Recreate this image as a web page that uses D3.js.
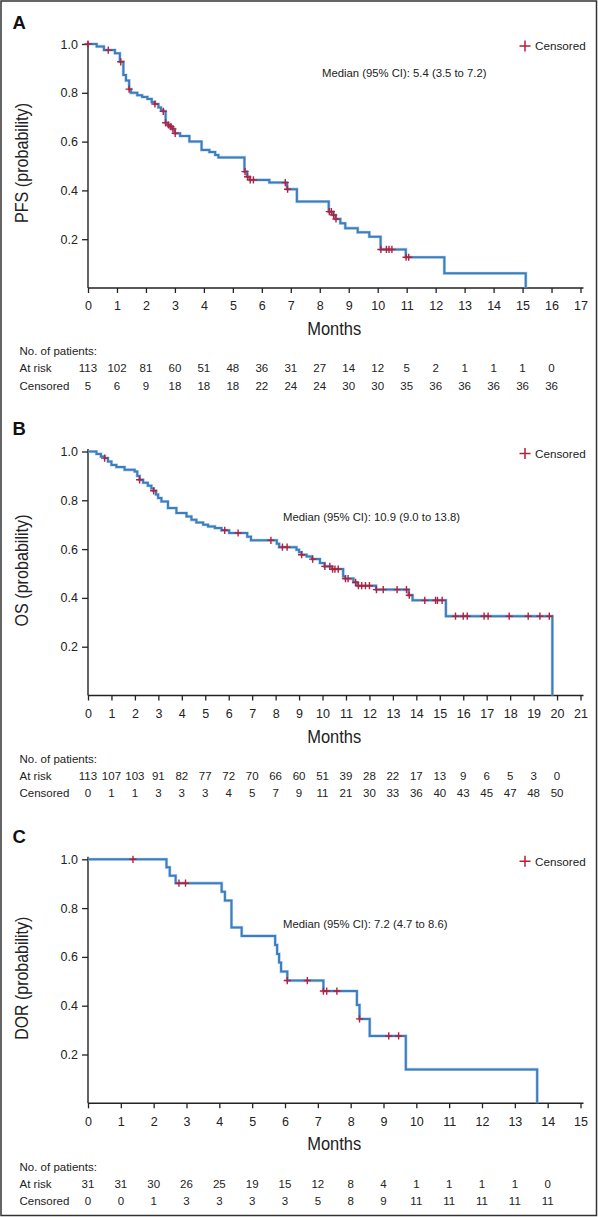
<!DOCTYPE html>
<html><head><meta charset="utf-8">
<script src="https://cdn.jsdelivr.net/npm/d3@7"></script>
<style>html,body{margin:0;padding:0;background:#fff;}svg{display:block;}</style>
</head><body>
<script>
// ---------- DATA ----------
// Panel A: PFS
const pfsTimes = [0,0.30,0.55,0.93,1.10,1.22,1.31,1.42,1.48,1.70,1.87,2.05,2.20,2.31,2.43,2.52,2.60,2.68,2.76,2.84,2.91,2.99,3.18,3.50,3.92,4.19,4.39,4.50,5.40,5.49,5.58,6.26,6.87,7.21,8.31,8.46,8.54,8.71,8.88,9.31,9.71,10.10,10.97,12.30,15.11];
const pfsSurv  = [1.0,0.99,0.975,0.962,0.927,0.873,0.85,0.815,0.80,0.79,0.783,0.775,0.762,0.754,0.74,0.728,0.724,0.677,0.668,0.661,0.652,0.634,0.623,0.60,0.566,0.557,0.545,0.535,0.477,0.456,0.443,0.432,0.405,0.354,0.313,0.299,0.283,0.265,0.245,0.228,0.210,0.158,0.126,0.06,0];
const pfsCensored = [0,0.70,1.13,1.42,2.31,2.60,2.68,2.78,2.86,2.93,3.01,5.42,5.51,5.60,5.71,6.81,6.89,8.33,8.40,8.48,8.56,10.11,10.30,10.39,10.49,10.98,11.07];
const pfsAtRisk = [113,102,81,60,51,48,36,31,27,14,12,5,2,1,1,1,0];
const pfsCensCount = [5,6,9,18,18,18,22,24,24,30,30,35,36,36,36,36,36];
const pfsMaxMonth = 17;

// Panel B: OS
const osTimes = [0,0.36,0.55,0.71,0.85,1.00,1.21,1.56,1.99,2.10,2.20,2.35,2.55,2.70,2.80,2.90,2.99,3.13,3.41,3.77,4.20,4.41,4.62,4.91,5.12,5.41,5.69,6.02,6.79,6.95,8.05,8.15,8.89,9.00,9.10,9.32,9.55,9.89,10.08,10.40,10.88,10.95,11.32,11.48,12.28,13.67,13.84,15.26,19.80];
const osSurv  = [1.0,0.99,0.98,0.973,0.959,0.945,0.936,0.925,0.918,0.90,0.884,0.872,0.86,0.848,0.839,0.824,0.809,0.795,0.768,0.748,0.734,0.72,0.709,0.70,0.693,0.686,0.677,0.666,0.651,0.636,0.622,0.608,0.597,0.587,0.577,0.570,0.559,0.543,0.529,0.518,0.488,0.479,0.464,0.450,0.434,0.411,0.390,0.325,0];
const osCensored = [0.71,2.20,2.80,5.83,6.40,7.80,8.29,8.49,9.11,9.58,10.10,10.31,10.43,10.53,10.67,10.98,11.09,11.41,11.53,11.67,11.83,12.00,12.30,12.59,13.18,13.58,13.70,14.36,14.82,14.90,15.10,15.67,16.00,16.17,16.89,17.06,17.96,18.77,19.27,19.67];
const osAtRisk = [113,107,103,91,82,77,72,70,66,60,51,39,28,22,17,13,9,6,5,3,0];
const osCensCount = [0,1,1,3,3,3,4,5,7,9,11,21,30,33,36,40,43,45,47,48,50];
const osMaxMonth = 21;

// Panel C: DOR
const dorTimes = [0,2.39,2.49,2.67,4.07,4.17,4.37,4.68,5.70,5.76,5.82,5.88,6.07,7.17,8.19,8.27,8.58,9.68,13.68];
const dorSurv  = [1.0,0.967,0.933,0.902,0.867,0.831,0.721,0.686,0.649,0.612,0.577,0.540,0.503,0.460,0.403,0.346,0.276,0.139,0];
const dorCensored = [1.37,2.77,2.97,6.07,6.68,7.17,7.27,7.58,8.27,9.16,9.46];
const dorAtRisk = [31,31,30,26,25,19,15,12,8,4,1,1,1,1,0];
const dorCensCount = [0,0,1,3,3,3,3,5,8,9,11,11,11,11,11];
const dorMaxMonth = 15;

const yTickValues = [0.2,0.4,0.6,0.8,1.0];
const panelLetters = ["A","B","C"];
const yTitles = ["PFS (probability)","OS (probability)","DOR (probability)"];
const medianTexts = ["Median (95% CI): 5.4 (3.5 to 7.2)","Median (95% CI): 10.9 (9.0 to 13.8)","Median (95% CI): 7.2 (4.7 to 8.6)"];
const xTitle = "Months";
const legendLabel = "Censored";
const tableHeader = "No. of patients:";
const rowLabels = ["At risk","Censored"];

// ---------- LAYOUT ----------
const W = 598, H = 1217;
const SANS = "'Liberation Sans', Arial, Helvetica, sans-serif";
const NARROW = "'Liberation Sans Narrow', 'Arial Narrow', 'Liberation Sans', sans-serif";
const BLUE = "#3b7ec0", RED = "#b3213d", AXIS = "#222";
const plotLeft = 88, plotRight = 580.5, plotH = 244;
const yTitleLengths = [120, 112, 123];

const panels = [
  {top:44,    times:pfsTimes, surv:pfsSurv, cens:pfsCensored, atRisk:pfsAtRisk, censCount:pfsCensCount, maxM:pfsMaxMonth, medX:322, medDy:33, letterY:28.5},
  {top:451.5, times:osTimes,  surv:osSurv,  cens:osCensored,  atRisk:osAtRisk,  censCount:osCensCount,  maxM:osMaxMonth,  medX:283, medDy:69, letterY:435},
  {top:859.3, times:dorTimes, surv:dorSurv, cens:dorCensored, atRisk:dorAtRisk, censCount:dorCensCount, maxM:dorMaxMonth, medX:283, medDy:69, letterY:843}
];

const svg = d3.select("body").append("svg").attr("width", W).attr("height", H);
svg.append("rect").attr("width", W).attr("height", H).attr("fill", "#fff");
svg.append("rect").attr("x", 1).attr("y", 1).attr("width", W - 2.5).attr("height", H - 2.5)
  .attr("fill", "none").attr("stroke", "#333").attr("stroke-width", 1.5);

function plusPath(cx, cy, r) {
  return `M${cx - r},${cy}H${cx + r}M${cx},${cy - r}V${cy + r}`;
}

panels.forEach((p, i) => {
  const x = d3.scaleLinear().domain([0, p.maxM]).range([plotLeft, plotRight]);
  const y = d3.scaleLinear().domain([0, 1]).range([p.top + plotH, p.top]);
  const g = svg.append("g");
  const y0 = y(0);

  // panel letter
  g.append("text").attr("x", 12.5).attr("y", p.letterY).text(panelLetters[i])
    .attr("font-family", SANS).attr("font-weight", "bold").attr("font-size", 18.5).attr("fill", "#111");

  // y axis
  const yAxis = d3.axisLeft(y).tickValues(yTickValues).tickFormat(d3.format(".1f")).tickSize(6).tickPadding(4).tickSizeOuter(0);
  const ya = g.append("g").attr("transform", `translate(${plotLeft},0)`).call(yAxis);
  ya.select(".domain").remove();
  ya.selectAll("line").attr("stroke", AXIS).attr("stroke-width", 1.3);
  ya.selectAll("text").attr("font-family", SANS).attr("font-size", 12.5).attr("fill", "#222");
  g.append("line").attr("x1", plotLeft).attr("x2", plotLeft).attr("y1", y(1) - 2.5).attr("y2", y0)
    .attr("stroke", AXIS).attr("stroke-width", 1.4);

  // x axis
  const xAxis = d3.axisBottom(x).tickValues(d3.range(0, p.maxM + 1)).tickFormat(d3.format("d")).tickSize(5).tickPadding(8.5).tickSizeOuter(0);
  const xa = g.append("g").attr("transform", `translate(0,${y0})`).call(xAxis);
  xa.select(".domain").remove();
  xa.selectAll("line").attr("stroke", AXIS).attr("stroke-width", 1.3);
  xa.selectAll("text").attr("font-family", SANS).attr("font-size", 12.5).attr("fill", "#222");
  g.append("line").attr("x1", plotLeft).attr("x2", plotRight + 3).attr("y1", y0).attr("y2", y0)
    .attr("stroke", AXIS).attr("stroke-width", 1.4);

  // y title (condensed look)
  g.append("text").attr("transform", `translate(28,${p.top + 119}) rotate(-90)`)
    .attr("text-anchor", "middle").attr("font-family", NARROW).attr("font-size", 18.5).attr("fill", "#222")
    .attr("textLength", yTitleLengths[i]).attr("lengthAdjust", "spacingAndGlyphs")
    .text(yTitles[i]);

  // x title
  g.append("text").attr("x", (plotLeft + plotRight) / 2).attr("y", y0 + 47)
    .attr("text-anchor", "middle").attr("font-family", NARROW).attr("font-size", 19).attr("fill", "#222")
    .attr("textLength", 54).attr("lengthAdjust", "spacingAndGlyphs")
    .text(xTitle);

  // curve
  const pts = p.times.map((t, k) => [t, p.surv[k]]);
  const line = d3.line().x(d => x(d[0])).y(d => y(d[1])).curve(d3.curveStepAfter);
  g.append("path").attr("d", line(pts)).attr("fill", "none").attr("stroke", "#8fb8e0")
    .attr("stroke-width", 3.2).attr("opacity", 0.6);
  g.append("path").attr("d", line(pts)).attr("fill", "none").attr("stroke", BLUE).attr("stroke-width", 2);

  // censored marks
  const survAt = t => p.surv[Math.max(0, d3.bisectRight(p.times, t) - 1)];
  g.selectAll(".cens").data(p.cens).enter().append("path")
    .attr("d", t => plusPath(x(t), y(survAt(t)), 3.6))
    .attr("stroke", RED).attr("stroke-width", 1.4).attr("fill", "none");

  // legend
  g.append("path").attr("d", plusPath(525, p.top + 2, 5.5)).attr("stroke", RED).attr("stroke-width", 1.5).attr("fill", "none");
  g.append("text").attr("x", 535).attr("y", p.top + 6.2).text(legendLabel)
    .attr("font-family", SANS).attr("font-size", 11.7).attr("fill", "#222");

  // median text
  g.append("text").attr("x", p.medX).attr("y", p.top + p.medDy).text(medianTexts[i])
    .attr("font-family", SANS).attr("font-size", 11.3).attr("fill", "#222");

  // table
  const rowsY = [y0 + 67.3, y0 + 84.4, y0 + 101.6];
  g.append("text").attr("x", 19.5).attr("y", rowsY[0]).text(tableHeader)
    .attr("font-family", SANS).attr("font-size", 11.5).attr("fill", "#222");
  rowLabels.forEach((lab, r) => {
    g.append("text").attr("x", 19.5).attr("y", rowsY[r + 1]).text(lab)
      .attr("font-family", SANS).attr("font-size", 11.5).attr("fill", "#222");
  });
  [p.atRisk, p.censCount].forEach((arr, r) => {
    g.selectAll(null).data(arr).enter().append("text")
      .attr("x", (d, k) => x(k)).attr("y", rowsY[r + 1]).attr("text-anchor", "middle")
      .attr("font-family", SANS).attr("font-size", 11.5).attr("fill", "#222")
      .text(d => d);
  });
});
</script>
</body></html>
